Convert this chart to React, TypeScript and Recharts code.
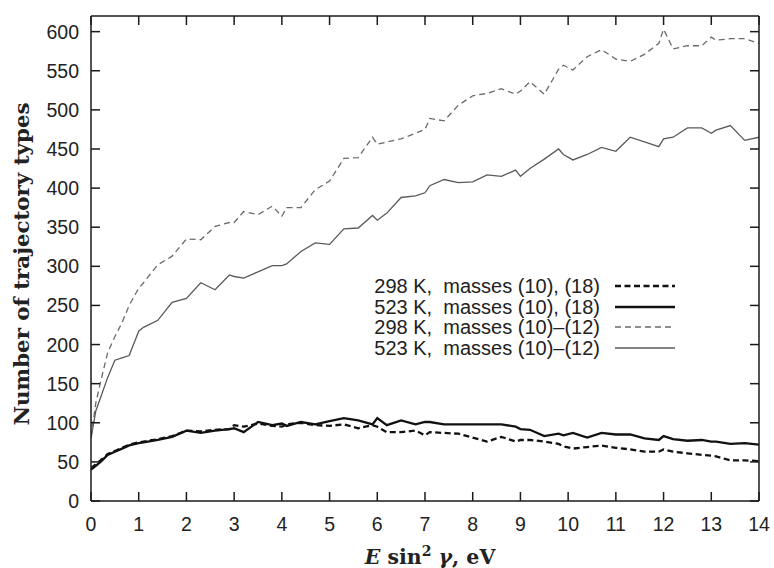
import { LineChart, Line, XAxis, YAxis, Legend, Label } from 'recharts';

// energy grid, eV
const X_VALUES = [
  0, 0.1, 0.2, 0.35, 0.5, 0.65, 0.8, 1.0, 1.1, 1.4, 1.7, 2.0, 2.3, 2.6, 2.9, 3.0,
  3.2, 3.5, 3.8, 4.0, 4.1, 4.4, 4.7, 5.0, 5.3, 5.6, 5.9, 6.0, 6.2, 6.5, 6.8, 7.0,
  7.1, 7.4, 7.7, 8.0, 8.3, 8.6, 8.9, 9.0, 9.2, 9.5, 9.8, 9.9, 10.1, 10.4, 10.7,
  11.0, 11.3, 11.6, 11.9, 12.0, 12.2, 12.5, 12.8, 13.0, 13.1, 13.4, 13.7, 14.0,
];

const T298_M10_18 = [
  42, 47, 52, 60, 64, 68, 72, 75, 76, 79, 83, 90, 89, 91, 92, 97,
  95, 99, 96, 95, 98, 100, 97, 96, 98, 93, 97, 95, 88, 88, 90, 84,
  88, 87, 86, 81, 76, 82, 76, 78, 78, 76, 73, 70, 67, 69, 71,
  68, 66, 63, 63, 66, 63, 61, 59, 58, 57, 52, 52, 51,
];

const T523_M10_18 = [
  40, 45, 50, 59, 63, 67, 71, 74, 75, 78, 82, 90, 87, 90, 92, 93,
  88, 101, 97, 99, 96, 101, 98, 102, 106, 103, 98, 106, 97, 103, 98, 101,
  101, 98, 98, 98, 98, 98, 95, 92, 91, 83, 86, 84, 87, 81, 87,
  85, 85, 80, 78, 83, 79, 77, 78, 76, 76, 73, 74, 72,
];

const T298_M10_12 = [
  82, 125, 152, 190, 210, 228, 250, 272, 279, 302, 313, 335, 334, 351, 356, 356,
  370, 366, 377, 364, 375, 375, 398, 409, 438, 439, 465, 456, 459, 463, 470, 475,
  489, 486, 506, 518, 521, 527, 520, 524, 536, 520, 552, 557, 551, 568, 577,
  565, 562, 571, 585, 603, 578, 582, 582, 593, 589, 591, 591, 585,
];

const T523_M10_12 = [
  80, 115, 132, 158, 180, 183, 186, 217, 222, 231, 254, 259, 279, 270, 289, 287,
  285, 293, 301, 301, 303, 319, 330, 328, 348, 349, 365, 359, 368, 388, 390, 394,
  403, 411, 407, 408, 417, 415, 423, 415, 425, 437, 450, 443, 436, 443, 452,
  447, 465, 459, 453, 463, 465, 477, 477, 470, 474, 480, 461, 465,
];

const X_TICKS = [0, 1, 2, 3, 4, 5, 6, 7, 8, 9, 10, 11, 12, 13, 14];
const Y_TICKS = [0, 50, 100, 150, 200, 250, 300, 350, 400, 450, 500, 550, 600];

const SERIES = [
  { key: 'a', name: '298 K,  masses (10), (18)', color: '#111', width: 2.3, dash: '6 3.5' },
  { key: 'b', name: '523 K,  masses (10), (18)', color: '#111', width: 2.3, dash: undefined },
  { key: 'c', name: '298 K,  masses (10)\u2013(12)', color: '#6a6a6a', width: 1.3, dash: '6 4' },
  { key: 'd', name: '523 K,  masses (10)\u2013(12)', color: '#5a5a5a', width: 1.3, dash: undefined },
];

const rows = X_VALUES.map((x, i) => ({
  x,
  a: T298_M10_18[i],
  b: T523_M10_18[i],
  c: T298_M10_12[i],
  d: T523_M10_12[i],
}));

const AXIS = '#1a1a1a';
const SANS = '"Liberation Sans", Arial, Helvetica, sans-serif';
const SERIF = '"DejaVu Serif", "Liberation Serif", serif';
const tickText = { fontFamily: SANS, fontSize: 19.5, fill: '#222' };

const BottomTick = (p: any) => (
  <g>
    <line x1={p.x} x2={p.x} y1={p.y} y2={p.y - 9} stroke={AXIS} strokeWidth={1.5} />
    <text x={p.x} y={p.y + 29.5} textAnchor="middle" {...tickText}>{p.payload.value}</text>
  </g>
);

const TopTick = (p: any) => (
  <line x1={p.x} x2={p.x} y1={p.y} y2={p.y + 9} stroke={AXIS} strokeWidth={1.5} />
);

const LeftTick = (p: any) => (
  <g>
    <line x1={p.x} x2={p.x + 9} y1={p.y} y2={p.y} stroke={AXIS} strokeWidth={1.5} />
    <text x={p.x - 12} y={p.y + 7} textAnchor="end" {...tickText}>{p.payload.value}</text>
  </g>
);

const RightTick = (p: any) => (
  <line x1={p.x} x2={p.x - 9} y1={p.y} y2={p.y} stroke={AXIS} strokeWidth={1.5} />
);

const LegendBox = () => (
  <div style={{ fontFamily: SANS, fontSize: 20, color: '#222', lineHeight: '20.5px' }}>
    {SERIES.map((s) => (
      <div key={s.key} style={{ display: 'flex', alignItems: 'center' }}>
        <span style={{ width: 240, textAlign: 'right', whiteSpace: 'pre' }}>{s.name}</span>
        <svg width={75} height={20} style={{ marginLeft: 15 }}>
          <line x1={0} x2={60} y1={10} y2={10} stroke={s.color} strokeWidth={s.width} strokeDasharray={s.dash} />
        </svg>
      </div>
    ))}
  </div>
);

const YTitle = (props: any) => {
  const { viewBox } = props;
  const cx = viewBox.x + viewBox.width - 62;
  const cy = 264;
  return (
    <text
      x={cx}
      y={cy}
      transform={`rotate(-90 ${cx} ${cy})`}
      textAnchor="middle"
      fontFamily={SERIF}
      fontWeight="bold"
      fontSize={21}
      fill="#222"
      textLength={323}
      lengthAdjust="spacingAndGlyphs"
    >
      Number of trajectory types
    </text>
  );
};

const XTitle = (props: any) => {
  const { viewBox } = props;
  return (
    <text x={430} y={viewBox.y + 63} textAnchor="middle" fontFamily={SERIF} fontWeight="bold" fontSize={20.5} fill="#222">
      <tspan fontStyle="italic">E</tspan>
      <tspan> sin</tspan>
      <tspan dy={-8} fontSize={14}>2</tspan>
      <tspan dy={8} fontStyle="italic"> γ</tspan>
      <tspan>, eV</tspan>
    </text>
  );
};

export default function App() {
  return (
    <div style={{ position: 'absolute', left: 0, top: 0, background: '#fff' }}>
      <LineChart width={774} height={568} data={rows} margin={{ top: 15, right: 14, bottom: 0, left: 1 }}>
        <XAxis
          dataKey="x"
          type="number"
          domain={[0, 14]}
          ticks={X_TICKS}
          interval={0}
          allowDataOverflow
          height={67}
          tickSize={0}
          tickMargin={0}
          tickLine={false}
          tick={BottomTick}
          axisLine={{ stroke: AXIS, strokeWidth: 1.5 }}
        >
          <Label content={XTitle} />
        </XAxis>
        <XAxis
          xAxisId="top"
          orientation="top"
          dataKey="x"
          type="number"
          domain={[0, 14]}
          ticks={X_TICKS}
          interval={0}
          allowDataOverflow
          height={1}
          tickSize={0}
          tickMargin={0}
          tickLine={false}
          tick={TopTick}
          axisLine={{ stroke: AXIS, strokeWidth: 1.5 }}
        />
        <YAxis
          type="number"
          domain={[0, 620]}
          ticks={Y_TICKS}
          interval={0}
          allowDataOverflow
          width={90}
          tickSize={0}
          tickMargin={0}
          tickLine={false}
          tick={LeftTick}
          axisLine={{ stroke: AXIS, strokeWidth: 1.5 }}
        >
          <Label content={YTitle} />
        </YAxis>
        <YAxis
          yAxisId="right"
          orientation="right"
          type="number"
          domain={[0, 620]}
          ticks={Y_TICKS}
          interval={0}
          allowDataOverflow
          width={1}
          tickSize={0}
          tickMargin={0}
          tickLine={false}
          tick={RightTick}
          axisLine={{ stroke: AXIS, strokeWidth: 1.5 }}
        />
        <Legend
          layout="vertical"
          align="center"
          verticalAlign="middle"
          content={LegendBox}
          wrapperStyle={{ position: 'absolute', left: 360, top: 276, width: 330 }}
        />
        {SERIES.map((s) => (
          <Line
            key={s.key}
            dataKey={s.key}
            name={s.name}
            type="linear"
            stroke={s.color}
            strokeWidth={s.width}
            strokeDasharray={s.dash}
            dot={false}
            activeDot={false}
            isAnimationActive={false}
          />
        ))}
      </LineChart>
    </div>
  );
}
